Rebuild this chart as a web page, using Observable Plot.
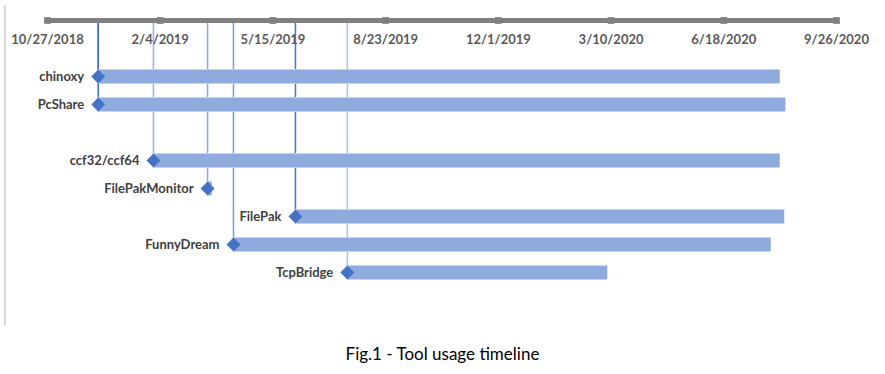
<!DOCTYPE html>
<html>
<head>
<meta charset="utf-8">
<script src="https://cdn.jsdelivr.net/npm/d3@7"></script>
<script src="https://cdn.jsdelivr.net/npm/@observablehq/plot@0.6"></script>
<style>
  html, body { margin: 0; padding: 0; background: #fff; }
  #wrap { position: relative; width: 885px; height: 330px; }
  #border { position: absolute; left: 4px; top: 5px; width: 2px; height: 320px; background: #d9d9d9; }
  #caption { width: 885px; height: 44px; line-height: 44px; padding-top: 2px; text-align: center;
             font-family: Lato, "Open Sans", sans-serif; font-size: 17px; color: #000; }
</style>
</head>
<body>
<div id="wrap"><div id="border"></div></div>
<div id="caption">Fig.1 - Tool usage timeline</div>
<script>
// ---- data ----
const tools = ["chinoxy", "PcShare", "ccf32/ccf64", "FilePakMonitor", "FilePak", "FunnyDream", "TcpBridge"];
const startDates = ["2018-12-11", "2018-12-11", "2019-01-29", "2019-03-18", "2019-06-04", "2019-04-10", "2019-07-20"];
const endDates   = ["2020-08-07", "2020-08-12", "2020-08-07", "2019-03-22", "2020-08-11", "2020-07-30", "2020-03-07"];
const tickDates  = ["2018-10-27", "2019-02-04", "2019-05-15", "2019-08-23", "2019-12-01", "2020-03-10", "2020-06-18", "2020-09-26"];
const tickLabels = ["10/27/2018", "2/4/2019", "5/15/2019", "8/23/2019", "12/1/2019", "3/10/2020", "6/18/2020", "9/26/2020"];

// ---- styles (kept separate from data) ----
const lineColors = ["#3f6fd0", "#3f6fd0", "#92b2ee", "#86a8ec", "#4a74d0", "#7399e6", "#a6c0f2"];

const rows = tools.map((name, i) => ({
  name,
  start: new Date(startDates[i]),
  end: new Date(endDates[i]),
  lineColor: lineColors[i]
}));
const ticks = tickDates.map((d, i) => ({date: new Date(d), label: tickLabels[i]}));

const AXIS = " axis", PAD = " pad", GAP = " gap";
const yDomain = [AXIS, PAD, tools[0], tools[1], GAP, ...tools.slice(2)];

const chart = Plot.plot({
  width: 885,
  height: 330,
  style: {fontFamily: "Lato, 'Open Sans', sans-serif", background: "transparent"},
  x: {type: "utc", domain: [ticks[0].date, ticks[ticks.length - 1].date], range: [47, 836], axis: null},
  y: {type: "point", domain: yDomain, range: [16, 276], padding: 0, axis: null},
  marks: [
    // vertical connector lines
    Plot.ruleX(rows, {x: "start", y1: () => AXIS, y2: "name", stroke: "lineColor", strokeWidth: 1.5}),
    // timeline axis
    Plot.ruleY([AXIS], {x1: ticks[0].date, x2: ticks[ticks.length - 1].date, stroke: "#808080", strokeWidth: 5}),
    Plot.dot(ticks, {x: "date", y: () => AXIS, symbol: "square", r: 3.8, fill: "#808080"}),
    Plot.text(ticks, {x: "date", y: () => AXIS, dy: 19, text: "label", fontSize: 13, fontWeight: "bold", fill: "#595959"}),
    // bars
    Plot.ruleY(rows, {y: "name", x1: "start", x2: "end", stroke: "#c5d5f0", strokeWidth: 15}),
    Plot.ruleY(rows, {y: "name", x1: "start", x2: "end", stroke: "#8faadc", strokeWidth: 13}),
    // start markers
    Plot.dot(rows, {x: "start", y: "name", symbol: "diamond2", r: 6.3, fill: "#4472c4"}),
    // labels
    Plot.text(rows, {x: "start", y: "name", text: "name", textAnchor: "end", dx: -14, fontSize: 13, fontWeight: "bold", fill: "#404040"})
  ]
});
document.getElementById("wrap").appendChild(chart);
</script>
</body>
</html>
